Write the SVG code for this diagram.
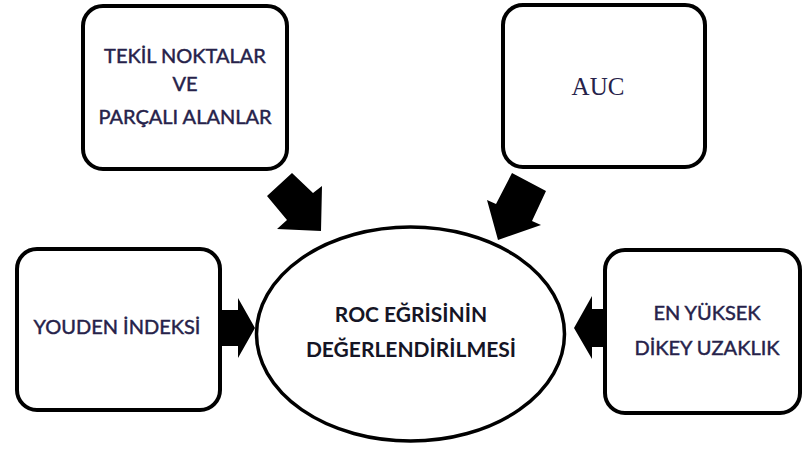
<svg xmlns="http://www.w3.org/2000/svg" width="803" height="450" viewBox="0 0 803 450">
<style>
.box{fill:#fff;stroke:#000;stroke-width:4}
.ell{fill:#fff;stroke:#000;stroke-width:3.5}
.t{font-family:Lato,"Open Sans","Liberation Sans",sans-serif;font-size:20px;fill:#26224a;stroke:#26224a;stroke-width:0.45;text-anchor:middle}
.tb{font-family:Lato,"Open Sans","Liberation Sans",sans-serif;font-size:21px;font-weight:bold;fill:#151525;text-anchor:middle}
.ts{font-family:"Liberation Serif",serif;font-size:25px;fill:#26224a;text-anchor:middle}
.arr{fill:#000}
</style>
<rect width="803" height="450" fill="#fff"/>
<g id="connectors">
<polygon class="arr" points="267,196 292,173 313,193 322,186 321,231 277,229 287,220"/>
<polygon class="arr" points="512,173 546,191 532,221 541,225 498,240 487,200 496,204"/>
<polygon class="arr" points="221,310 238,310 238,298 255,328 238,358 238,346 221,346"/>
<polygon class="arr" points="605,309 592,309 592,296 574,328 592,359 592,347 605,347"/>
</g>
<g id="node-tekil">
<rect class="box" x="83" y="6" width="204" height="163" rx="20"/>
<text class="t" x="185" y="63">TEKİL NOKTALAR</text>
<text class="t" x="185" y="91">VE</text>
<text class="t" x="185" y="124">PARÇALI ALANLAR</text>
</g>
<g id="node-auc">
<rect class="box" x="503" y="5" width="202" height="162" rx="20"/>
<text class="ts" x="598" y="95">AUC</text>
</g>
<g id="node-youden">
<rect class="box" x="17" y="249" width="203" height="161" rx="20"/>
<text class="t" x="117" y="334">YOUDEN İNDEKSİ</text>
</g>
<g id="node-dikey">
<rect class="box" x="605" y="250" width="195" height="163" rx="20"/>
<text class="t" x="707" y="320">EN YÜKSEK</text>
<text class="t" x="707" y="355">DİKEY UZAKLIK</text>
</g>
<g id="node-roc">
<ellipse class="ell" cx="410.5" cy="334" rx="154" ry="107"/>
<text class="tb" x="411" y="322">ROC EĞRİSİNİN</text>
<text class="tb" x="411" y="357">DEĞERLENDİRİLMESİ</text>
</g>
</svg>
